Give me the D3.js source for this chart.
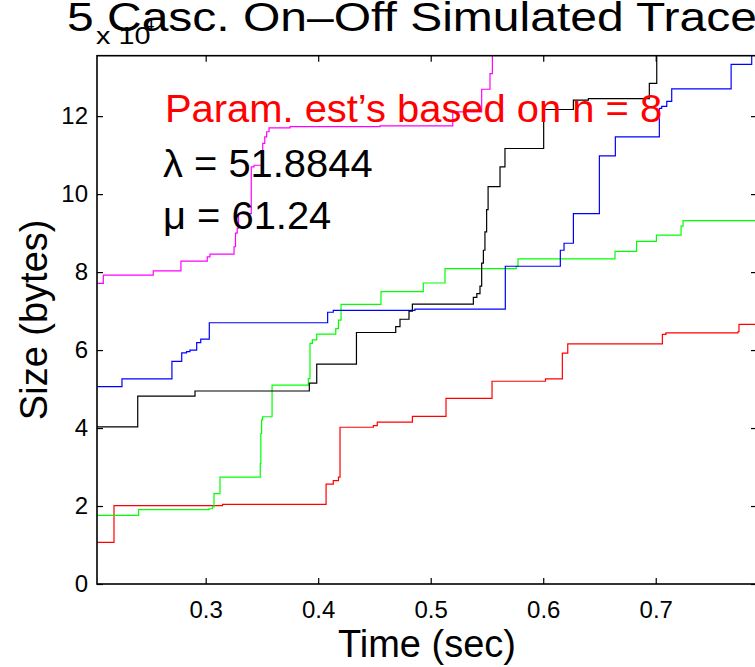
<!DOCTYPE html>
<html>
<head>
<meta charset="utf-8">
<script src="https://cdn.jsdelivr.net/npm/d3@7"></script>
<style>
  html, body { margin: 0; padding: 0; background: #fff; overflow: hidden; }
  svg { display: block; }
  text { font-family: "Liberation Sans", Arial, Helvetica, sans-serif; }
</style>
</head>
<body>
<svg id="chart" width="755" height="667"></svg>
<script>
// ---- data (time in sec, size in units of 10^4 bytes), stairs: value holds until next time ----
const redX   = [0.200, 0.2185, 0.315, 0.407, 0.4134, 0.418, 0.4194, 0.449, 0.4525, 0.4837, 0.5136, 0.5545, 0.602, 0.617, 0.6218, 0.7059, 0.709, 0.773, 0.774, 0.800];
const redY   = [1.07, 2.01, 2.04, 2.56, 2.65, 2.74, 4.02, 4.06, 4.15, 4.30, 4.76, 5.20, 5.26, 5.92, 6.16, 6.40, 6.44, 6.47, 6.66, 6.66];

const greenX = [0.200, 0.2404, 0.303, 0.306, 0.3074, 0.3127, 0.3485, 0.3490, 0.3497, 0.3505, 0.3590, 0.3912, 0.3927, 0.3948, 0.3987, 0.4156, 0.418, 0.4203, 0.4558, 0.4934, 0.5127, 0.576, 0.5776, 0.6638, 0.683, 0.7006, 0.7225, 0.7243, 0.800];
const greenY = [1.76, 1.91, 1.93, 1.98, 2.32, 2.74, 3.09, 3.86, 4.21, 4.29, 5.10, 5.27, 6.17, 6.26, 6.41, 6.55, 6.77, 7.17, 7.50, 7.72, 8.09, 8.15, 8.34, 8.53, 8.79, 8.95, 9.18, 9.32, 9.32];

const blueX  = [0.200, 0.2256, 0.270, 0.2787, 0.283, 0.286, 0.292, 0.2956, 0.3032, 0.4084, 0.4134, 0.486, 0.5663, 0.6152, 0.6185, 0.6268, 0.6499, 0.6641, 0.7032, 0.7053, 0.7098, 0.7142, 0.767, 0.7853, 0.800];
const blueY  = [5.06, 5.26, 5.71, 5.93, 5.96, 6.00, 6.19, 6.28, 6.70, 6.97, 7.02, 7.05, 8.15, 8.56, 8.74, 9.50, 10.98, 11.47, 12.20, 12.25, 12.38, 12.70, 13.33, 14.00, 14.20];

const blackX = [0.200, 0.2396, 0.2905, 0.3921, 0.3987, 0.4340, 0.4689, 0.4727, 0.4807, 0.4837, 0.5379, 0.541, 0.5438, 0.5453, 0.5468, 0.5482, 0.5497, 0.551, 0.5616, 0.566, 0.6004, 0.6268, 0.6401, 0.6943, 0.7009, 0.800];
const blackY = [4.03, 4.82, 4.95, 5.15, 5.64, 6.45, 6.60, 6.79, 7.00, 7.18, 7.35, 7.45, 7.64, 8.23, 8.56, 9.03, 9.60, 10.19, 10.70, 11.17, 12.17, 12.41, 12.45, 12.84, 14.00, 14.20];

const magentaX = [0.200, 0.209, 0.2534, 0.278, 0.3014, 0.3038, 0.3252, 0.3265, 0.3280, 0.3292, 0.3405, 0.3430, 0.3507, 0.3525, 0.3542, 0.3563, 0.375, 0.455, 0.5196, 0.5453, 0.5527, 0.5548, 0.570];
const magentaY = [7.71, 7.92, 8.03, 8.28, 8.39, 8.46, 8.65, 9.00, 9.13, 9.50, 10.70, 10.74, 11.30, 11.47, 11.60, 11.70, 11.73, 11.75, 12.11, 12.69, 13.09, 14.00, 14.20];

const seriesNames  = ["red", "green", "blue", "black", "magenta"];
const seriesColors = ["#ff0000", "#00ff00", "#0000ff", "#000000", "#ff00ff"];
const seriesXs = [redX, greenX, blueX, blackX, magentaX];
const seriesYs = [redY, greenY, blueY, blackY, magentaY];

const xTicks = [0.3, 0.4, 0.5, 0.6, 0.7];
const yTicks = [0, 2, 4, 6, 8, 10, 12];
const xDomain = [0.2034, 0.790];
const yDomain = [0, 13.55];

const titleText = "5 Casc. On\u2013Off Simulated Traces";
const xLabelText = "Time (sec)";
const yLabelText = "Size (bytes)";
const annotParam = "Param. est\u2019s based on n = 8";
const annotLambda = "\u03BB = 51.8844";
const annotMu = "\u03BC = 61.24";

// ---- layout ----
const L = 97, R = 757, T = 55.7, B = 584;
const svg = d3.select("#chart");
const x = d3.scaleLinear().domain(xDomain).range([L, R]);
const y = d3.scaleLinear().domain(yDomain).range([B, T]);

svg.append("defs").append("clipPath").attr("id", "clip")
  .append("rect").attr("x", L).attr("y", T).attr("width", R - L).attr("height", B - T);

// series
const line = d3.line().x(d => x(d[0])).y(d => y(d[1])).curve(d3.curveStepAfter);
const g = svg.append("g").attr("clip-path", "url(#clip)");
seriesNames.forEach((n, i) => {
  const pts = seriesXs[i].map((v, j) => [v, seriesYs[i][j]]);
  g.append("path").datum(pts)
    .attr("d", line)
    .attr("fill", "none")
    .attr("stroke", seriesColors[i])
    .attr("stroke-width", 1.2);
});

// axes
const tickFont = 24;
function styleAxis(sel) {
  sel.select(".domain").remove();
  sel.selectAll(".tick line").attr("stroke", "#000").attr("stroke-width", 1.2);
  sel.selectAll(".tick text").attr("font-size", tickFont).attr("fill", "#000")
     .attr("font-family", '"Liberation Sans", Arial, sans-serif');
}
svg.append("g").attr("transform", `translate(0,${B})`)
  .call(d3.axisBottom(x).tickValues(xTicks).tickFormat(d3.format(".1f")).tickSize(-6).tickPadding(17))
  .call(styleAxis);
svg.append("g").attr("transform", `translate(0,${T})`)
  .call(d3.axisTop(x).tickValues(xTicks).tickFormat("").tickSize(-6))
  .call(styleAxis);
svg.append("g").attr("transform", `translate(${L},0)`)
  .call(d3.axisLeft(y).tickValues(yTicks).tickFormat(d3.format("d")).tickSize(-6).tickPadding(9))
  .call(styleAxis);
svg.append("g").attr("transform", `translate(${R},0)`)
  .call(d3.axisRight(y).tickValues(yTicks).tickFormat("").tickSize(-6))
  .call(styleAxis);

// box
svg.append("rect").attr("x", L).attr("y", T).attr("width", R - L).attr("height", B - T)
  .attr("fill", "none").attr("stroke", "#000").attr("stroke-width", 1.6);

// helper for horizontally stretched text
function stext(tx, ty, sx, size, str, fill) {
  return svg.append("text")
    .attr("transform", `translate(${tx},${ty}) scale(${sx},1)`)
    .attr("font-size", size).attr("fill", fill || "#000").text(str);
}

// multiplier x 10^4
stext(96, 43.5, 1.2, 24, "x 10");
stext(144, 30, 1.1, 17, "4");

// title
stext(67, 31, 1.2, 40, titleText);

// axis labels
svg.append("text").attr("x", (L + R) / 2).attr("y", 657).attr("text-anchor", "middle")
  .attr("font-size", 38).text(xLabelText);
svg.append("text").attr("transform", `translate(47,${(T + B) / 2}) rotate(-90)`).attr("text-anchor", "middle")
  .attr("font-size", 38).text(yLabelText);

// annotations
stext(165, 121.5, 1.05, 38, annotParam, "#ff0000");
stext(163, 176.5, 1.05, 38, annotLambda);
stext(163, 228.5, 1.05, 38, annotMu);
</script>
</body>
</html>
